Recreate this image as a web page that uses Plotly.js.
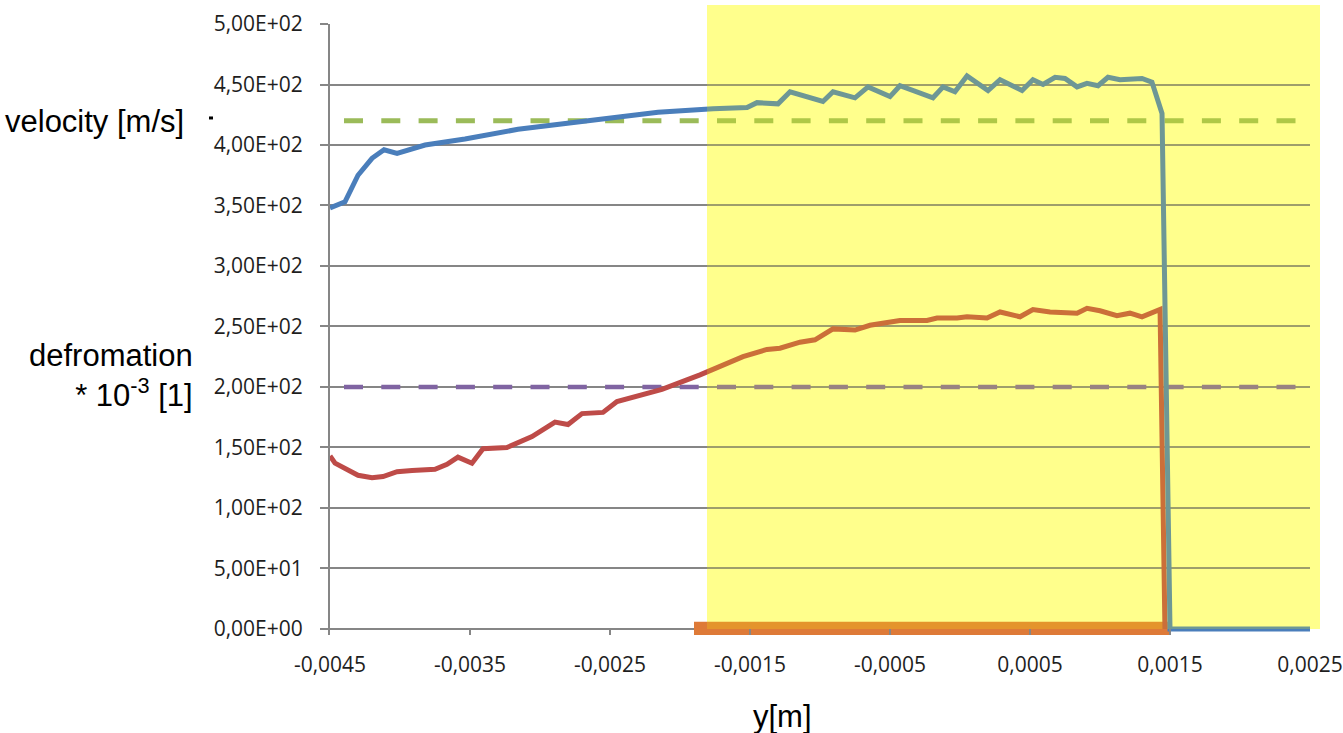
<!DOCTYPE html>
<html>
<head>
<meta charset="utf-8">
<script src="https://cdn.plot.ly/plotly-3.0.1.min.js"></script>
<style>html,body{margin:0;padding:0;background:#fff;}#chart{width:1343px;height:733px;}</style>
</head>
<body>
<div id="chart"></div>
<script>
// ---- data ----
var velX = [-0.0045, -0.004393, -0.0043, -0.0042, -0.004114, -0.004021, -0.003821, -0.003536, -0.003157, -0.00275, -0.002393, -0.002157, -0.001764, -0.001521, -0.00145, -0.0013, -0.001214, -0.000979, -0.000907, -0.00075, -0.000657, -0.0005, -0.000429, -0.000193, -0.000121, -0.000036, 0.00005, 0.0002, 0.000286, 0.000443, 0.000521, 0.000593, 0.000679, 0.00075, 0.000836, 0.000907, 0.000986, 0.001057, 0.001143, 0.001214, 0.0013, 0.001371, 0.001443, 0.0015, 0.0025];
var velY = [348, 353, 375, 389, 396, 393, 400, 405, 413, 419, 424, 427, 430, 431, 435, 434, 444, 436, 444, 439, 448, 440, 449, 439, 448, 444, 457, 445, 454, 445, 454, 450, 456, 455, 448, 451, 449, 456, 454, 454, 455, 452, 426, 0, 0];

var defX = [-0.0045, -0.004464, -0.0043, -0.0042, -0.004121, -0.004021, -0.003914, -0.00375, -0.003664, -0.003586, -0.003486, -0.003407, -0.003236, -0.003157, -0.003057, -0.002893, -0.0028, -0.0027, -0.00255, -0.00245, -0.002129, -0.001857, -0.001714, -0.00155, -0.001379, -0.001286, -0.001143, -0.001036, -0.000907, -0.00075, -0.000643, -0.000521, -0.000429, -0.000236, -0.000164, -0.000021, 0.00005, 0.000193, 0.000286, 0.000429, 0.000521, 0.000643, 0.000764, 0.000836, 0.000907, 0.001, 0.001121, 0.001214, 0.0013, 0.001429, 0.001464];
var defY = [143, 137, 127, 125, 126, 130, 131, 132, 136, 142, 137, 149, 150, 154, 159, 171, 169, 178, 179, 188, 198, 210, 217, 225, 231, 232, 237, 239, 248, 247, 251, 253, 255, 255, 257, 257, 258, 257, 262, 258, 264, 262, 261, 261, 265, 263, 259, 261, 258, 264, 0];

var refX = [-0.0044, 0.0025];
var velRef = [420, 420];
var defRef = [200, 200];

var zoneStart = -0.0019;
var zoneEnd = 0.0015;

var xTickVals = [-0.0045, -0.0035, -0.0025, -0.0015, -0.0005, 0.0005, 0.0015, 0.0025];
var xTickText = ['-0,0045', '-0,0035', '-0,0025', '-0,0015', '-0,0005', '0,0005', '0,0015', '0,0025'];
var yTickVals = [0, 50, 100, 150, 200, 250, 300, 350, 400, 450, 500];
var yTickText = ['0,00E+00', '5,00E+01', '1,00E+02', '1,50E+02', '2,00E+02', '2,50E+02', '3,00E+02', '3,50E+02', '4,00E+02', '4,50E+02', '5,00E+02'];

// ---- traces ----
var grid = '#868686';
var traces = [
  {type: 'bar', orientation: 'h', y: [0], x: [zoneEnd - zoneStart], base: [zoneStart], width: [12],
   marker: {color: '#DE7A38', line: {width: 0}}, cliponaxis: false, hoverinfo: 'skip'},
  {type: 'scatter', mode: 'lines', x: refX, y: velRef,
   line: {color: '#9BBB59', width: 5, dash: '19px,18.3px'}},
  {type: 'scatter', mode: 'lines', x: refX, y: defRef,
   line: {color: '#8064A2', width: 4.5, dash: '19px,18.3px'}},
  {type: 'scatter', mode: 'lines', x: defX, y: defY,
   line: {color: '#BE4B48', width: 5}},
  {type: 'scatter', mode: 'lines', x: velX, y: velY,
   line: {color: '#4A7EBB', width: 5}}
];

var tickFont = {family: 'Open Sans, sans-serif', size: 21, color: '#1e1e1e'};
var labFont = {family: 'Liberation Sans, Arial, sans-serif', size: 31, color: '#000'};

var layout = {
  width: 1343, height: 733,
  margin: {l: 330, r: 33, t: 24, b: 98},
  paper_bgcolor: '#fff', plot_bgcolor: 'rgba(0,0,0,0)',
  showlegend: false,
  xaxis: {
    range: [-0.0045, 0.0025], tickmode: 'array', tickvals: xTickVals, ticktext: xTickText,
    showgrid: false, zeroline: false, showline: false,
    ticks: 'inside', ticklen: 6, tickwidth: 2, tickcolor: grid,
    tickfont: tickFont, ticklabelstandoff: 15
  },
  yaxis: {
    range: [-5, 500], tickmode: 'array', tickvals: yTickVals, ticktext: yTickText,
    showgrid: true, gridcolor: grid, gridwidth: 2,
    zeroline: true, zerolinecolor: grid, zerolinewidth: 2,
    showline: true, linecolor: grid, linewidth: 2,
    ticks: 'outside', ticklen: 8, tickwidth: 2, tickcolor: grid,
    tickfont: tickFont, ticklabelstandoff: 13
  },
  shapes: [
    {type: 'rect', xref: 'paper', yref: 'paper', x0: 0.3847, x1: 1.0102, y0: 0.0099, y1: 1.0311,
     fillcolor: '#FFFFAF', line: {width: 0}, layer: 'below'},
    {type: 'rect', xref: 'paper', yref: 'paper', x0: 0.3847, x1: 1.0102, y0: 0.0099, y1: 1.0311,
     fillcolor: '#FFFF00', opacity: 0.2, line: {width: 0}, layer: 'above'},
    {type: 'line', xref: 'paper', yref: 'paper', x0: -0.1235, x1: -0.1194, y0: 0.8462, y1: 0.8462,
     line: {color: '#000', width: 3}}
  ],
  annotations: [
    {text: 'velocity [m/s]', xref: 'paper', yref: 'paper', x: -0.3337, y: 0.8405,
     xanchor: 'left', yanchor: 'middle', showarrow: false, font: labFont},
    {text: 'defromation<br>* 10<sup>-3</sup> [1]', xref: 'paper', yref: 'paper', x: -0.1378, y: 0.4255,
     xanchor: 'right', yanchor: 'middle', align: 'right', showarrow: false, font: labFont},
    {text: 'y[m]', xref: 'paper', yref: 'paper', x: 0.4622, y: -0.1326,
     xanchor: 'center', yanchor: 'middle', showarrow: false, font: labFont}
  ]
};

Plotly.newPlot('chart', traces, layout, {displayModeBar: false, staticPlot: true});
</script>
</body>
</html>
